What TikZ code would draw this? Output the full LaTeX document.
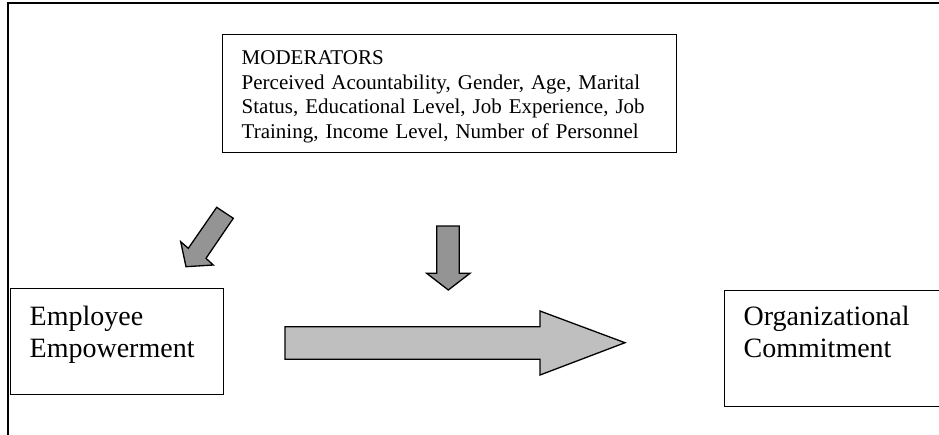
\documentclass[tikz,border=0pt]{standalone}
\usepackage{fontspec}
\setmainfont{Liberation Serif}
\begin{document}
\begin{tikzpicture}[x=1pt,y=-1pt,
  box/.style={draw=black, line width=1.4pt, rectangle, anchor=north west, inner xsep=19pt, inner ysep=0pt, align=left},
  modfont/.style={font={\fontsize{21}{24.5}\selectfont}},
  bigfont/.style={font={\fontsize{28}{32}\selectfont}},
  darkarrow/.style={draw=black, line width=1.3pt, fill=black!42, line join=miter},
  lightarrow/.style={draw=black, line width=1.3pt, fill=black!25, line join=miter}]
\useasboundingbox (0,0) rectangle (939,434);
\clip (0,0) rectangle (939,434);
% outer frame
\draw[line width=2pt] (8,440) -- (8,3) -- (950,3);
% boxes
\node[box, modfont, text width=416pt, text height=30pt, text depth=88pt] (mod) at (222,34)
  {MODERATORS\\Perceived Acountability, Gender, Age, Marital\\Status, Educational Level, Job Experience, Job\\Training, Income Level, Number of Personnel};
\node[box, bigfont, text width=175pt, text height=37pt, text depth=69pt] (emp) at (10,288)
  {Employee\\Empowerment};
\node[box, bigfont, text width=200pt, text height=35pt, text depth=81pt] (org) at (724,290)
  {Organizational\\Commitment};
% diagonal arrow
\draw[darkarrow] (216.7,207.3) -- (233.3,218.3) -- (206,258.3) -- (213.3,265) -- (186,266.7) -- (180.7,241.7) -- (188.3,248.3) -- cycle;
% down arrow
\draw[darkarrow] (436.7,226) -- (459.3,226) -- (459.3,273.3) -- (470,273.3) -- (448.3,290) -- (426.7,273.3) -- (436.7,273.3) -- cycle;
% main arrow
\draw[lightarrow] (285,326.7) -- (540,326.7) -- (540,311) -- (625,342.7) -- (540,375) -- (540,359.3) -- (285,359.3) -- cycle;
\end{tikzpicture}
\end{document}
